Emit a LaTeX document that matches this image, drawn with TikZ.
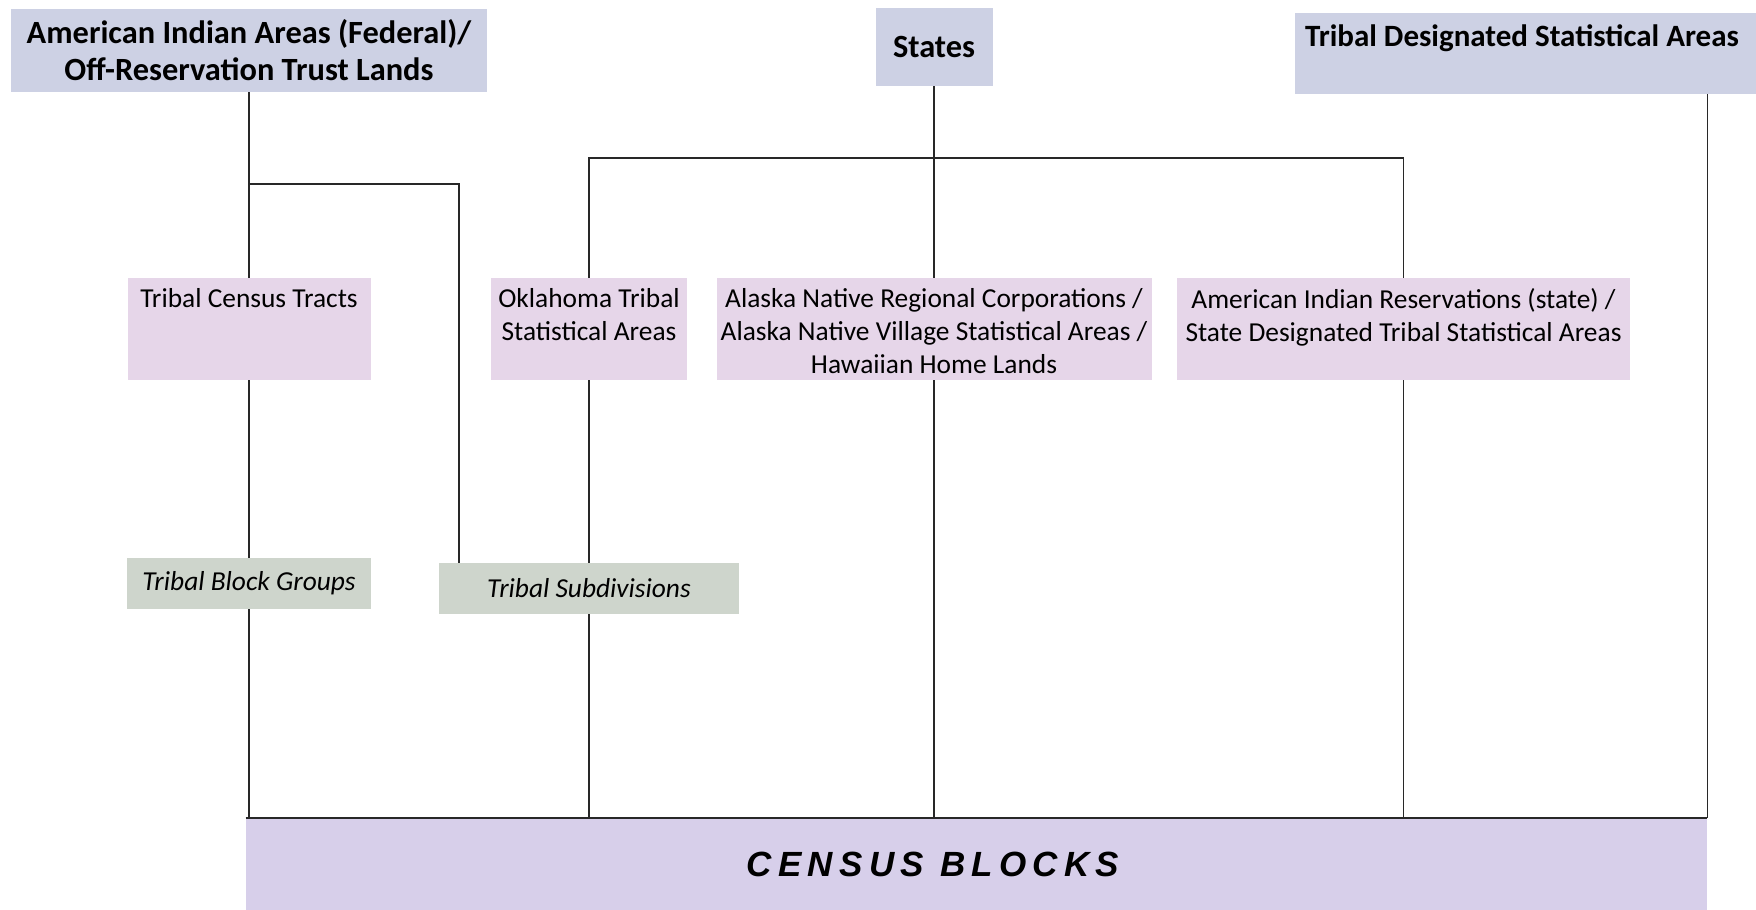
\documentclass[tikz,border=0pt]{standalone}
\usepackage{fontspec}
\setmainfont{Carlito}
\newfontfamily\blockfont[LetterSpace=18]{Liberation Sans}
\usetikzlibrary{positioning}
\definecolor{topfill}{RGB}{205,209,228}
\definecolor{areafill}{RGB}{230,214,233}
\definecolor{subfill}{RGB}{206,213,204}
\definecolor{blockfill}{RGB}{215,207,234}
\definecolor{linecol}{RGB}{40,40,40}
\tikzset{
    topbox/.style={rectangle, fill=topfill, inner sep=0pt, align=center, font=\fontsize{16.2}{18.5}\selectfont\bfseries},
    areabox/.style={rectangle, fill=areafill, inner sep=0pt, minimum height=51pt},
    subbox/.style={rectangle, fill=subfill, inner sep=0pt, minimum height=25.5pt, font=\fontsize{13.7}{16.5}\selectfont\itshape},
    blockbox/.style={rectangle, fill=blockfill, inner sep=0pt, minimum width=730.5pt, minimum height=46pt},
    boxtext/.style={inner sep=0pt, align=center, font=\fontsize{13.7}{16.5}\selectfont},
    link/.style={draw=linecol, line width=0.6pt}
}

\begin{document}
\begin{tikzpicture}[x=0.5pt, y=-0.5pt]
    \useasboundingbox (0,0) rectangle (1756,910);

    % Top level areas
    \node[topbox, minimum width=238pt, minimum height=41.5pt] (aia) at (249,50.5) {American Indian Areas (Federal)/\\ Off-Reservation Trust Lands};
    \node[topbox, minimum width=58.5pt, minimum height=39pt] (states) at (934,47) {States};
    \node[topbox, minimum width=252.5pt, minimum height=40.5pt] (tdsa) at (1547.5,53.5) {};
    \node[topbox, anchor=west, font=\fontsize{15.5}{18.5}\selectfont\bfseries] at ([shift={(10,26)}]tdsa.north west) {Tribal Designated Statistical Areas};

    % Second level areas
    \node[areabox, minimum width=121.5pt] (tct) at (249,329) {};
    \node[boxtext, below=5pt of tct.north] {Tribal Census Tracts};
    \node[areabox, minimum width=98pt] (okla) at (589,329) {};
    \node[boxtext, below=5pt of okla.north] {Oklahoma Tribal\\ Statistical Areas};
    \node[areabox, minimum width=217.5pt] (alaska) at (934,329) {};
    \node[boxtext, below=5pt of alaska.north] {Alaska Native Regional Corporations /\\ Alaska Native Village Statistical Areas /\\ Hawaiian Home Lands};
    \node[areabox, minimum width=226.5pt] (air) at (1403.5,329) {};
    \node[boxtext, below=5pt of air.north] {American Indian Reservations (state) /\\ State Designated Tribal Statistical Areas};

    % Sub areas
    \node[subbox, minimum width=122pt] (tbg) at (249,583.5) {Tribal Block Groups};
    \node[subbox, minimum width=150pt] (tsub) at (589,588.5) {Tribal Subdivisions};

    % Census blocks
    \node[blockbox] (cb) at (976.5,864) {};
    \node[inner sep=0pt, font=\blockfont\fontsize{17.5}{20}\selectfont\bfseries\itshape] (cbtext) at (933,864) {CENSUS BLOCKS};

    % Links from federal areas
    \coordinate (fedturn) at (459,184);
    \draw[link] (aia) -- (tct);
    \draw[link] (aia.south |- fedturn) -- (fedturn) -- (fedturn |- tsub.north);
    \draw[link] (tct) -- (tbg);
    \draw[link] (tbg.south) -- (tbg.south |- cb.north);

    % Links from states
    \coordinate (statebar) at (934,158);
    \draw[link] (states) -- (alaska);
    \draw[link] (okla.north) |- (statebar) -| (air.north);
    \draw[link] (okla) -- (tsub);
    \draw[link] (tsub.south) -- (tsub.south |- cb.north);
    \draw[link] (alaska.south) -- (alaska.south |- cb.north);
    \draw[link] (air.south) -- (air.south |- cb.north);

    % Link from tribal designated areas
    \draw[link] (cb.north east |- tdsa.south) -- (cb.north east);
    \draw[draw=linecol, line width=1pt] (cb.north west) -- (cb.north east);
\end{tikzpicture}
\end{document}
